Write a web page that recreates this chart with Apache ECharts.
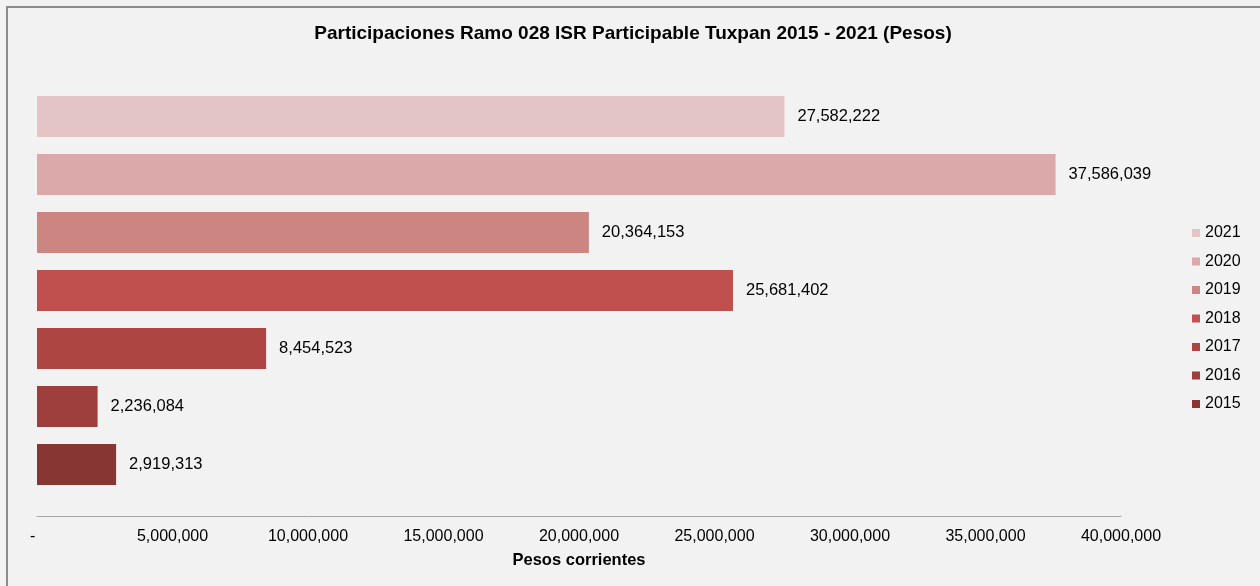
<!DOCTYPE html>
<html><head><meta charset="utf-8">
<script src="https://cdn.jsdelivr.net/npm/echarts@6/dist/echarts.min.js"></script>
<style>html,body{margin:0;padding:0;background:#f2f2f2;}#c{width:1260px;height:586px;}</style>
</head><body><div id="c"></div>
<script>
const years = ['2015','2016','2017','2018','2019','2020','2021'];
const values = [2919313, 2236084, 8454523, 25681402, 20364153, 37586039, 27582222];
const legendOrder = ['2021','2020','2019','2018','2017','2016','2015'];
const colors = ['#873634','#9f3f3d','#ad4643','#c0504d','#cd8582','#dba9a9','#e4c5c6'];
const font = "'Liberation Sans', Arial, sans-serif";
const fmt = v => Math.round(v).toString().replace(/\B(?=(\d{3})+(?!\d))/g, ',');
const tickFmt = v => v === 0 ? '-  ' : fmt(v);

const series = years.map((y, i) => ({
  name: y,
  type: 'bar',
  stack: 'all',
  barCategoryGap: '29%',
  itemStyle: { color: colors[i] },
  label: { show: true, position: 'right', distance: 13, color: '#000', fontFamily: font, fontSize: 16.5,
           formatter: p => fmt(p.value) },
  data: years.map((_, j) => j === i ? values[i] : '-')
}));

const chart = echarts.init(document.getElementById('c'));
chart.setOption({
  animation: false,
  backgroundColor: '#f2f2f2',
  title: {
    text: 'Participaciones Ramo 028 ISR Participable Tuxpan 2015 - 2021 (Pesos)',
    left: 633, textAlign: 'center', top: 24, padding: 0,
    textStyle: { fontFamily: font, fontSize: 19, fontWeight: 'bold', color: '#000' }
  },
  legend: {
    orient: 'vertical', left: 1192, top: 225, padding: 0,
    data: legendOrder, icon: 'rect', itemWidth: 8, itemHeight: 8, itemGap: 12.5,
    textStyle: { fontFamily: font, fontSize: 16, color: '#000', padding: [0,0,0,0] }
  },
  grid: { left: 37, right: 139, top: 87.5, bottom: 92.5, containLabel: false },
  xAxis: {
    type: 'value', min: 0, max: 40000000, interval: 5000000, offset: 22.5,
    name: 'Pesos corrientes', nameLocation: 'middle', nameGap: 36,
    nameTextStyle: { fontFamily: font, fontSize: 16.5, fontWeight: 'bold', color: '#000' },
    axisLine: { show: true, lineStyle: { color: '#a6a6a6', width: 1 } },
    axisTick: { show: false },
    splitLine: { show: false },
    axisLabel: { formatter: tickFmt, fontFamily: font, fontSize: 16, color: '#000', margin: 13 }
  },
  yAxis: { type: 'category', data: years, show: false },
  series: series,
  graphic: [{ type: 'rect', shape: { x: 7, y: 7, width: 1400, height: 800 },
              style: { fill: 'none', stroke: '#8c8c8c', lineWidth: 2 }, silent: true }]
});
</script></body></html>
